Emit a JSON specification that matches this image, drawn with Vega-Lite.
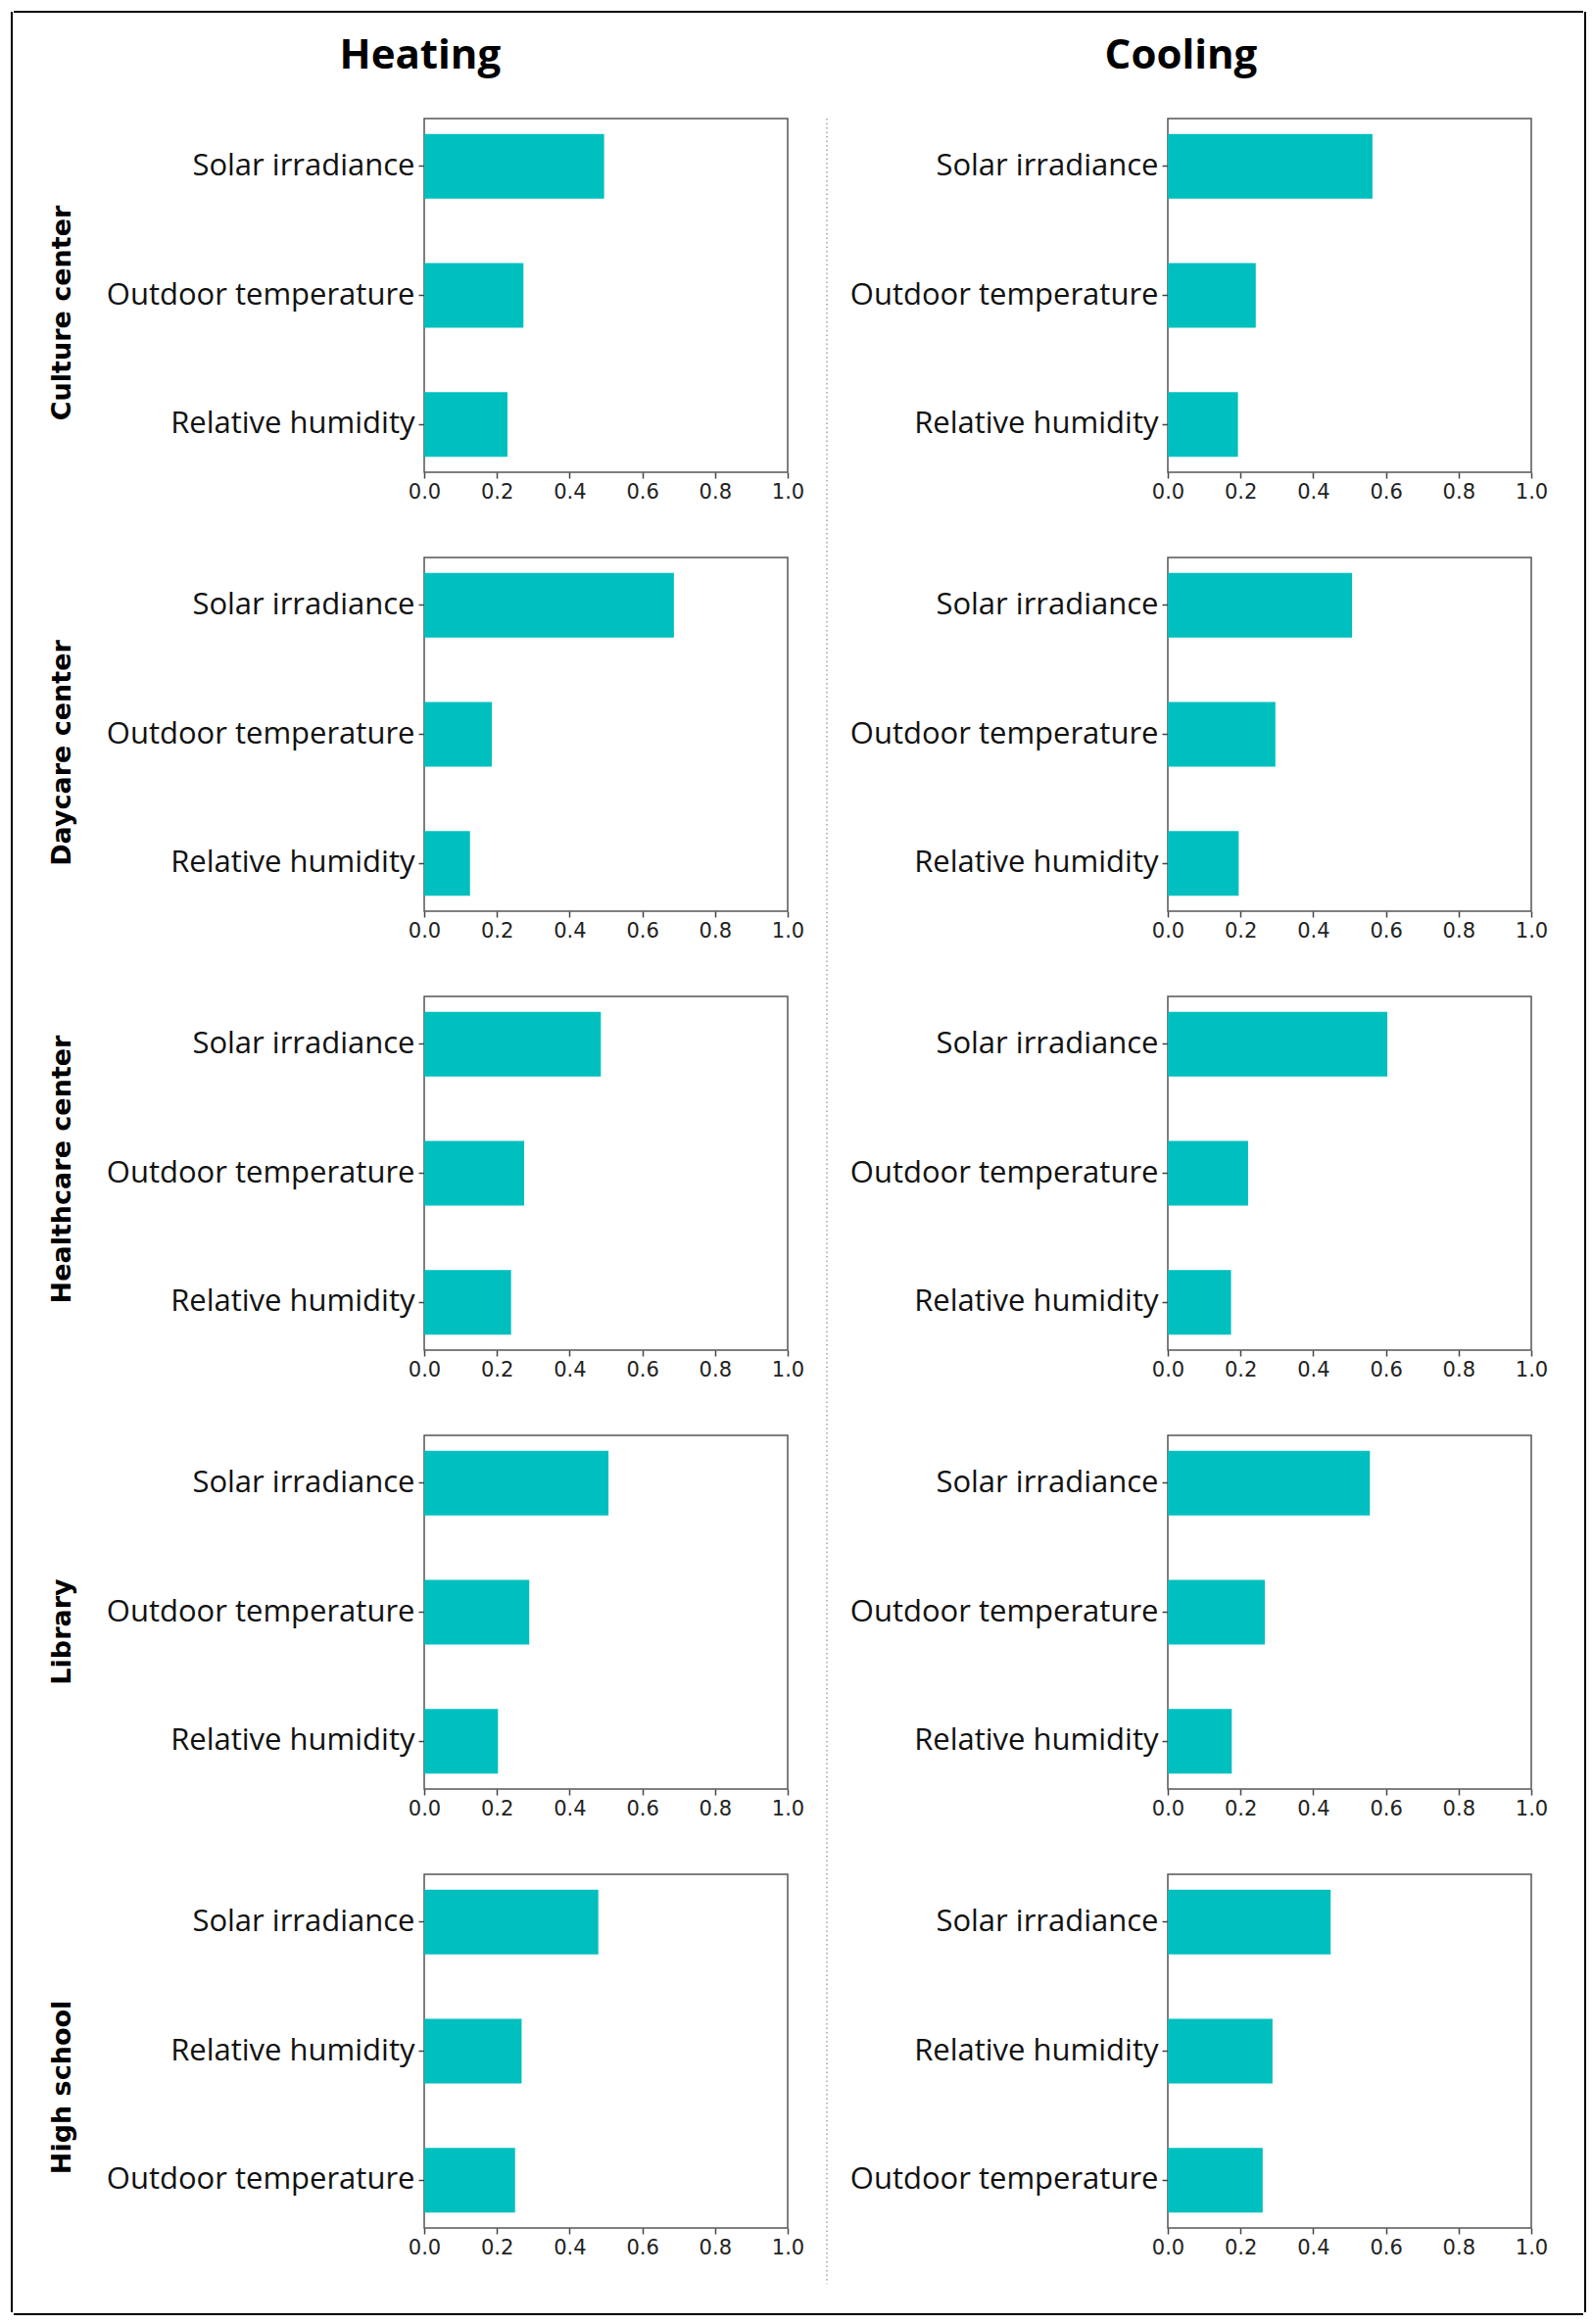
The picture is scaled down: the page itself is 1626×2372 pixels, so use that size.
{
  "$schema": "https://vega.github.io/schema/vega-lite/v6.json",
  "padding": {"left": 11, "top": 11, "right": 4, "bottom": 4},
  "background": "white",
  "datasets": {
    "imp": [
      {"building": "Culture center", "mode": "Heating", "factor": "Solar irradiance", "value": 0.495},
      {"building": "Culture center", "mode": "Heating", "factor": "Outdoor temperature", "value": 0.273},
      {"building": "Culture center", "mode": "Heating", "factor": "Relative humidity", "value": 0.229},
      {"building": "Culture center", "mode": "Cooling", "factor": "Solar irradiance", "value": 0.563},
      {"building": "Culture center", "mode": "Cooling", "factor": "Outdoor temperature", "value": 0.242},
      {"building": "Culture center", "mode": "Cooling", "factor": "Relative humidity", "value": 0.193},
      {"building": "Daycare center", "mode": "Heating", "factor": "Solar irradiance", "value": 0.687},
      {"building": "Daycare center", "mode": "Heating", "factor": "Outdoor temperature", "value": 0.186},
      {"building": "Daycare center", "mode": "Heating", "factor": "Relative humidity", "value": 0.126},
      {"building": "Daycare center", "mode": "Cooling", "factor": "Solar irradiance", "value": 0.507},
      {"building": "Daycare center", "mode": "Cooling", "factor": "Outdoor temperature", "value": 0.296},
      {"building": "Daycare center", "mode": "Cooling", "factor": "Relative humidity", "value": 0.195},
      {"building": "Healthcare center", "mode": "Heating", "factor": "Solar irradiance", "value": 0.486},
      {"building": "Healthcare center", "mode": "Heating", "factor": "Outdoor temperature", "value": 0.275},
      {"building": "Healthcare center", "mode": "Heating", "factor": "Relative humidity", "value": 0.239},
      {"building": "Healthcare center", "mode": "Cooling", "factor": "Solar irradiance", "value": 0.604},
      {"building": "Healthcare center", "mode": "Cooling", "factor": "Outdoor temperature", "value": 0.221},
      {"building": "Healthcare center", "mode": "Cooling", "factor": "Relative humidity", "value": 0.174},
      {"building": "Library", "mode": "Heating", "factor": "Solar irradiance", "value": 0.507},
      {"building": "Library", "mode": "Heating", "factor": "Outdoor temperature", "value": 0.289},
      {"building": "Library", "mode": "Heating", "factor": "Relative humidity", "value": 0.203},
      {"building": "Library", "mode": "Cooling", "factor": "Solar irradiance", "value": 0.556},
      {"building": "Library", "mode": "Cooling", "factor": "Outdoor temperature", "value": 0.267},
      {"building": "Library", "mode": "Cooling", "factor": "Relative humidity", "value": 0.176},
      {"building": "High school", "mode": "Heating", "factor": "Solar irradiance", "value": 0.479},
      {"building": "High school", "mode": "Heating", "factor": "Relative humidity", "value": 0.268},
      {"building": "High school", "mode": "Heating", "factor": "Outdoor temperature", "value": 0.250},
      {"building": "High school", "mode": "Cooling", "factor": "Solar irradiance", "value": 0.448},
      {"building": "High school", "mode": "Cooling", "factor": "Relative humidity", "value": 0.288},
      {"building": "High school", "mode": "Cooling", "factor": "Outdoor temperature", "value": 0.261}
    ]
  },
  "config": {
    "view": {"stroke": "#555555", "strokeWidth": 1.5},
    "bar": {"color": "#00BFBF"},
    "scale": {"bandPaddingInner": 0.5, "bandPaddingOuter": 0.12},
    "title": {"font": "Open Sans", "fontSize": 42, "fontWeight": "bold", "color": "#000000", "anchor": "middle", "offset": 41},
    "axisX": {"labelFlush": false, "grid": false, "domain": false, "tickSize": 6, "tickColor": "#444444", "tickWidth": 1.5, "labelFont": "DejaVu Sans", "labelFontSize": 21, "labelColor": "#222222", "labelPadding": 3},
    "axisY": {"domain": false, "grid": false, "tickSize": 6, "tickColor": "#444444", "tickWidth": 1.5, "labelFont": "Open Sans", "labelFontSize": 31, "labelColor": "#111111", "labelPadding": 4, "labelLimit": 1000, "titleFont": "DejaVu Sans", "titleFontSize": 27, "titleFontWeight": "bold", "titleColor": "#000000", "titleLimit": 1000, "titleX": -356, "titleAngle": 270, "titleBaseline": "bottom"}
  },
  "spacing": 0,
  "hconcat": [
    {
      "width": 1, "height": 2348, "view": {"stroke": null},
      "data": {"values": [{}]},
      "mark": {"type": "rule", "color": "#000000", "strokeWidth": 2},
      "encoding": {"x": {"datum": 0, "type": "quantitative", "scale": {"domain": [0, 1]}, "axis": null}}
    },
    {
      "spacing": 23,
      "vconcat": [
        {
          "width": 1602, "height": 1, "view": {"stroke": null},
          "data": {"values": [{}]},
          "mark": {"type": "rule", "color": "#000000", "strokeWidth": 2},
          "encoding": {"y": {"datum": 1, "type": "quantitative", "scale": {"domain": [0, 1]}, "axis": null}}
        },
        {
          "spacing": 29,
          "vconcat": [
            {
              "spacing": 21,
              "hconcat": [
                {
                  "width": 13, "height": 1, "view": {"stroke": null},
                  "data": {"values": []},
                  "mark": "point",
                  "encoding": {}
                },
                {
                  "title": {"text": "Heating", "dx": -6},
                  "spacing": 55,
                  "vconcat": [
                    {"width": 371, "height": 361, "data": {"name": "imp"}, "transform": [{"filter": "datum.building === 'Culture center' && datum.mode === 'Heating'"}], "mark": "bar",
                     "encoding": {"y": {"field": "factor", "type": "nominal", "sort": "-x", "title": "Culture center", "axis": {"titleY": 198}}, "x": {"field": "value", "type": "quantitative", "title": null, "scale": {"domain": [0, 1]}, "axis": {"values": [0, 0.2, 0.4, 0.6, 0.8, 1], "format": ".1f"}}}},
                    {"width": 371, "height": 361, "data": {"name": "imp"}, "transform": [{"filter": "datum.building === 'Daycare center' && datum.mode === 'Heating'"}], "mark": "bar",
                     "encoding": {"y": {"field": "factor", "type": "nominal", "sort": "-x", "title": "Daycare center", "axis": {"titleY": 199}}, "x": {"field": "value", "type": "quantitative", "title": null, "scale": {"domain": [0, 1]}, "axis": {"values": [0, 0.2, 0.4, 0.6, 0.8, 1], "format": ".1f"}}}},
                    {"width": 371, "height": 361, "data": {"name": "imp"}, "transform": [{"filter": "datum.building === 'Healthcare center' && datum.mode === 'Heating'"}], "mark": "bar",
                     "encoding": {"y": {"field": "factor", "type": "nominal", "sort": "-x", "title": "Healthcare center", "axis": {"titleY": 176}}, "x": {"field": "value", "type": "quantitative", "title": null, "scale": {"domain": [0, 1]}, "axis": {"values": [0, 0.2, 0.4, 0.6, 0.8, 1], "format": ".1f"}}}},
                    {"width": 371, "height": 361, "data": {"name": "imp"}, "transform": [{"filter": "datum.building === 'Library' && datum.mode === 'Heating'"}], "mark": "bar",
                     "encoding": {"y": {"field": "factor", "type": "nominal", "sort": "-x", "title": "Library", "axis": {"titleY": 200}}, "x": {"field": "value", "type": "quantitative", "title": null, "scale": {"domain": [0, 1]}, "axis": {"values": [0, 0.2, 0.4, 0.6, 0.8, 1], "format": ".1f"}}}},
                    {"width": 371, "height": 361, "data": {"name": "imp"}, "transform": [{"filter": "datum.building === 'High school' && datum.mode === 'Heating'"}], "mark": "bar",
                     "encoding": {"y": {"field": "factor", "type": "nominal", "sort": "-x", "title": "High school", "axis": {"titleY": 217}}, "x": {"field": "value", "type": "quantitative", "title": null, "scale": {"domain": [0, 1]}, "axis": {"values": [0, 0.2, 0.4, 0.6, 0.8, 1], "format": ".1f"}}}}
                  ]
                },
                {
                  "width": 1, "height": 2210, "view": {"stroke": null},
                  "data": {"values": [{}]},
                  "mark": {"type": "rule", "color": "#888888", "strokeWidth": 1.2, "strokeDash": [1.5, 3]},
                  "encoding": {"x": {"datum": 0, "type": "quantitative", "scale": {"domain": [0, 1]}, "axis": null}}
                },
                {
                  "title": {"text": "Cooling", "dx": -18},
                  "spacing": 55,
                  "vconcat": [
                    {"width": 371, "height": 361, "data": {"name": "imp"}, "transform": [{"filter": "datum.building === 'Culture center' && datum.mode === 'Cooling'"}], "mark": "bar",
                     "encoding": {"y": {"field": "factor", "type": "nominal", "sort": "-x", "title": null}, "x": {"field": "value", "type": "quantitative", "title": null, "scale": {"domain": [0, 1]}, "axis": {"values": [0, 0.2, 0.4, 0.6, 0.8, 1], "format": ".1f"}}}},
                    {"width": 371, "height": 361, "data": {"name": "imp"}, "transform": [{"filter": "datum.building === 'Daycare center' && datum.mode === 'Cooling'"}], "mark": "bar",
                     "encoding": {"y": {"field": "factor", "type": "nominal", "sort": "-x", "title": null}, "x": {"field": "value", "type": "quantitative", "title": null, "scale": {"domain": [0, 1]}, "axis": {"values": [0, 0.2, 0.4, 0.6, 0.8, 1], "format": ".1f"}}}},
                    {"width": 371, "height": 361, "data": {"name": "imp"}, "transform": [{"filter": "datum.building === 'Healthcare center' && datum.mode === 'Cooling'"}], "mark": "bar",
                     "encoding": {"y": {"field": "factor", "type": "nominal", "sort": "-x", "title": null}, "x": {"field": "value", "type": "quantitative", "title": null, "scale": {"domain": [0, 1]}, "axis": {"values": [0, 0.2, 0.4, 0.6, 0.8, 1], "format": ".1f"}}}},
                    {"width": 371, "height": 361, "data": {"name": "imp"}, "transform": [{"filter": "datum.building === 'Library' && datum.mode === 'Cooling'"}], "mark": "bar",
                     "encoding": {"y": {"field": "factor", "type": "nominal", "sort": "-x", "title": null}, "x": {"field": "value", "type": "quantitative", "title": null, "scale": {"domain": [0, 1]}, "axis": {"values": [0, 0.2, 0.4, 0.6, 0.8, 1], "format": ".1f"}}}},
                    {"width": 371, "height": 361, "data": {"name": "imp"}, "transform": [{"filter": "datum.building === 'High school' && datum.mode === 'Cooling'"}], "mark": "bar",
                     "encoding": {"y": {"field": "factor", "type": "nominal", "sort": "-x", "title": null}, "x": {"field": "value", "type": "quantitative", "title": null, "scale": {"domain": [0, 1]}, "axis": {"values": [0, 0.2, 0.4, 0.6, 0.8, 1], "format": ".1f"}}}}
                  ]
                }
              ]
            },
            {
              "width": 1602, "height": 1, "view": {"stroke": null},
              "data": {"values": [{}]},
              "mark": {"type": "rule", "color": "#000000", "strokeWidth": 2},
              "encoding": {"y": {"datum": 1, "type": "quantitative", "scale": {"domain": [0, 1]}, "axis": null}}
            }
          ]
        }
      ]
    },
    {
      "width": 1, "height": 2348, "view": {"stroke": null},
      "data": {"values": [{}]},
      "mark": {"type": "rule", "color": "#000000", "strokeWidth": 2},
      "encoding": {"x": {"datum": 0, "type": "quantitative", "scale": {"domain": [0, 1]}, "axis": null}}
    }
  ]
}
